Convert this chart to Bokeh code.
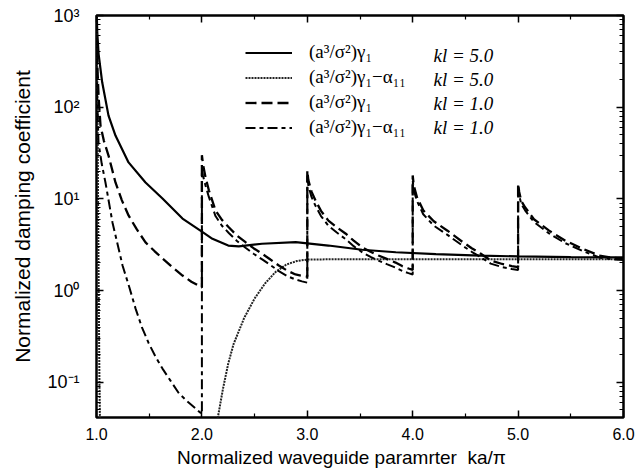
import numpy as np
from bokeh.plotting import figure
from bokeh.models import (Legend, LegendItem, Label, FixedTicker, LinearAxis,
                          LogAxis, Range1d, PrintfTickFormatter, CustomJSTickFormatter)
from bokeh.embed import file_html
from bokeh.resources import INLINE

nan = np.nan

# kl = 5.0, (a^3/sigma^2) gamma_1  (solid)
x_g5 = [1.0005, 1.003, 1.007, 1.02, 1.054, 1.114, 1.18, 1.304, 1.465, 1.626, 1.816,
        2.0, 2.1, 2.25, 2.35, 2.57, 2.89, 3.2, 3.52, 3.84, 4.22, 4.64, 5.0, 5.5, 6.0]
y_g5 = [2000, 1000, 660, 380, 187, 81, 49, 25, 15.1, 10.1, 6.1,
        4.4, 3.67, 3.1, 3.03, 3.24, 3.37, 3.1, 2.79, 2.62, 2.5, 2.4, 2.36, 2.32, 2.3]

# kl = 5.0, (a^3/sigma^2) gamma_1 - alpha_11  (dotted)
x_ga5 = [1.0005, 1.004, 1.012, 1.02, 1.028, 1.034, nan,
         2.14, 2.2, 2.25, 2.3, 2.4, 2.5, 2.6, 2.7, 2.8, 2.9, 3.0, 3.3, 3.7, 4.2, 5.0, 6.0]
y_ga5 = [2000, 700, 30, 1.5, 0.1, 0.03, nan,
         0.035, 0.085, 0.16, 0.26, 0.5, 0.82, 1.2, 1.6, 1.92, 2.1, 2.18, 2.2, 2.2, 2.2, 2.2, 2.2]

# kl = 1.0, (a^3/sigma^2) gamma_1  (dashed)
x_g1 = [1.0005, 1.003, 1.01, 1.02, 1.038, 1.07, 1.114, 1.18, 1.24, 1.304, 1.38, 1.465,
        1.55, 1.626, 1.72, 1.816, 1.9, 2.0,
        2.0, 2.01, 2.034, 2.066, 2.129, 2.19, 2.255, 2.33, 2.414, 2.49, 2.572, 2.65,
        2.73, 2.81, 2.888, 2.95, 3.0,
        3.0, 3.01, 3.04, 3.078, 3.13, 3.2, 3.28, 3.362, 3.44, 3.524, 3.6, 3.675, 3.76,
        3.837, 3.9, 3.96, 4.0,
        4.0, 4.01, 4.04, 4.1, 4.2, 4.33, 4.48, 4.56, 4.643, 4.74, 4.85, 4.94, 5.0,
        5.0, 5.01, 5.03, 5.066, 5.15, 5.294, 5.445, 5.607, 5.769, 5.88, 6.0]
y_g1 = [2000, 600, 250, 130, 63, 43, 29.7, 15.1, 9.7, 6.6, 4.7, 3.35,
        2.7, 2.24, 1.8, 1.46, 1.25, 1.08,
        30, 24, 17.3, 12.4, 7.5, 5.9, 4.9, 4.0, 3.37, 2.9, 2.52, 2.18,
        1.88, 1.65, 1.5, 1.45, 1.42,
        20.4, 16, 12, 9.6, 7.4, 5.8, 4.9, 4.2, 3.5, 2.95, 2.65, 2.41, 2.2,
        2.02, 1.85, 1.74, 1.68,
        18, 14, 10.5, 7.5, 5.7, 4.5, 3.35, 2.9, 2.54, 2.13, 1.95, 1.85, 1.8,
        14.7, 12, 9.5, 8.1, 6.0, 4.5, 3.52, 2.88, 2.41, 2.3, 2.22]

# kl = 1.0, (a^3/sigma^2) gamma_1 - alpha_11  (dash-dot)
x_ga1 = [1.0005, 1.005, 1.019, 1.05, 1.085, 1.152, 1.2, 1.247, 1.31, 1.37, 1.43, 1.493,
         1.56, 1.626, 1.7, 1.778, 1.86, 1.939, 2.0,
         2.0, 2.01, 2.034, 2.066, 2.129, 2.19, 2.255, 2.33, 2.414, 2.49, 2.572, 2.65,
         2.73, 2.81, 2.888, 2.95, 3.0,
         3.0, 3.01, 3.04, 3.078, 3.13, 3.2, 3.28, 3.362, 3.44, 3.524, 3.6, 3.675, 3.76,
         3.837, 3.9, 3.96, 4.0,
         4.0, 4.01, 4.04, 4.1, 4.2, 4.33, 4.48, 4.56, 4.643, 4.74, 4.85, 4.94, 5.0,
         5.0, 5.01, 5.03, 5.066, 5.15, 5.294, 5.445, 5.607, 5.769, 5.88, 6.0]
y_ga1 = [800, 150, 41, 24, 15.1, 5.5, 3.2, 1.88, 1.1, 0.64, 0.4, 0.27,
         0.19, 0.141, 0.105, 0.077, 0.062, 0.052, 0.045,
         21, 18, 14, 10.5, 6.5, 5.1, 4.25, 3.5, 2.93, 2.52, 2.19, 1.9,
         1.63, 1.44, 1.32, 1.26, 1.22,
         18, 14, 10.5, 8.4, 6.5, 5.1, 4.3, 3.65, 3.05, 2.6, 2.33, 2.12, 1.93,
         1.78, 1.64, 1.55, 1.5,
         16, 12.5, 9.5, 6.8, 5.1, 4.05, 3.05, 2.65, 2.32, 1.97, 1.8, 1.72, 1.68,
         13.5, 11, 8.8, 7.5, 5.6, 4.2, 3.3, 2.72, 2.3, 2.2, 2.15]

legend_labels = ["(a³/σ²)γ₁", "(a³/σ²)γ₁−α₁₁", "(a³/σ²)γ₁", "(a³/σ²)γ₁−α₁₁"]
kl_labels = ["kl = 5.0", "kl = 5.0", "kl = 1.0", "kl = 1.0"]

x_major = [1, 2, 3, 4, 5, 6]
x_minor = [1.5, 2.5, 3.5, 4.5, 5.5]
y_major = [0.1, 1, 10, 100, 1000]
y_major_text = ["10⁻¹", "10⁰", "10¹", "10²", "10³"]
y_minor = [k * 10.0 ** e for e in range(-2, 3) for k in range(2, 10)]

x_title = "Normalized waveguide paramrter" + "\u00a0" * 2 + "ka/π" + "\u00a0" * 7
y_title = "Normalized damping coefficient"

SANS = "Liberation Sans"
SERIF = "Liberation Serif"

p = figure(width=637, height=475, output_backend="svg", toolbar_location=None,
           x_range=Range1d(1, 6), y_range=Range1d(0.0413, 1000), y_axis_type="log",
           min_border_left=96, min_border_right=14, min_border_top=15, min_border_bottom=58)
p.background_fill_color = "white"
p.border_fill_color = "white"
p.outline_line_color = "black"
p.outline_line_width = 2.5
p.xgrid.grid_line_color = None
p.ygrid.grid_line_color = None

blank = CustomJSTickFormatter(code="return ''")

def style_axis(ax, labels=True):
    ax.axis_line_color = None
    ax.major_tick_in = 7
    ax.major_tick_out = 0
    ax.minor_tick_in = 4
    ax.minor_tick_out = 0
    ax.major_tick_line_width = 1.5
    ax.minor_tick_line_width = 1.2
    ax.major_tick_line_color = "black"
    ax.minor_tick_line_color = "black"
    ax.major_label_text_font = SANS
    ax.major_label_text_font_size = "16px"
    ax.major_label_text_color = "black"
    if not labels:
        ax.formatter = blank
        ax.major_label_standoff = 0

xa = p.xaxis[0]
xa.ticker = FixedTicker(ticks=x_major, minor_ticks=x_minor)
xa.formatter = PrintfTickFormatter(format="%.1f")
style_axis(xa)
xa.major_label_standoff = 10
xa.axis_label = x_title
xa.axis_label_text_font = SANS
xa.axis_label_text_font_size = "19px"
xa.axis_label_text_font_style = "normal"
xa.axis_label_text_color = "black"
xa.axis_label_standoff = 4

ya = p.yaxis[0]
ya.ticker = FixedTicker(ticks=y_major, minor_ticks=y_minor)
ya.major_label_overrides = {v: t for v, t in zip(y_major, y_major_text)}
style_axis(ya)
ya.major_label_text_font_size = "18px"
ya.major_label_standoff = 17
ya.axis_label = y_title
ya.axis_label_text_font = SANS
ya.axis_label_text_font_size = "21px"
ya.axis_label_text_font_style = "normal"
ya.axis_label_text_color = "black"
ya.axis_label_standoff = 10

top = LinearAxis(ticker=FixedTicker(ticks=x_major, minor_ticks=x_minor))
style_axis(top, labels=False)
p.add_layout(top, "above")
right = LogAxis(ticker=FixedTicker(ticks=y_major, minor_ticks=y_minor))
style_axis(right, labels=False)
p.add_layout(right, "right")

r1 = p.line(x_g5, y_g5, line_color="black", line_width=2.2)
r2 = p.line(x_ga5, y_ga5, line_color="#222222", line_width=2.0, line_dash="2 1")
r3 = p.line(x_g1, y_g1, line_color="black", line_width=2.3, line_dash="11 5")
r4 = p.line(x_ga1, y_ga1, line_color="black", line_width=2.0, line_dash="10 4 4 4")

legend = Legend(items=[LegendItem(label=legend_labels[i], renderers=[r])
                       for i, r in enumerate([r1, r2, r3, r4])],
                location=(149, 279), orientation="vertical",
                glyph_width=47, glyph_height=21, label_height=21, spacing=3,
                label_standoff=17, padding=0, margin=0,
                border_line_color=None, background_fill_alpha=0,
                label_text_font=SERIF, label_text_font_size="19px",
                label_text_color="black", label_text_baseline="middle")
p.add_layout(legend, "center")

for i, t in enumerate(kl_labels):
    p.add_layout(Label(x=337, y=362 - 24 * i, x_units="screen", y_units="screen",
                       text=t, text_font=SERIF, text_font_style="italic",
                       text_color="black",
                       text_font_size="19px", text_baseline="middle"))

open("out.html", "w").write(file_html(p, INLINE))
